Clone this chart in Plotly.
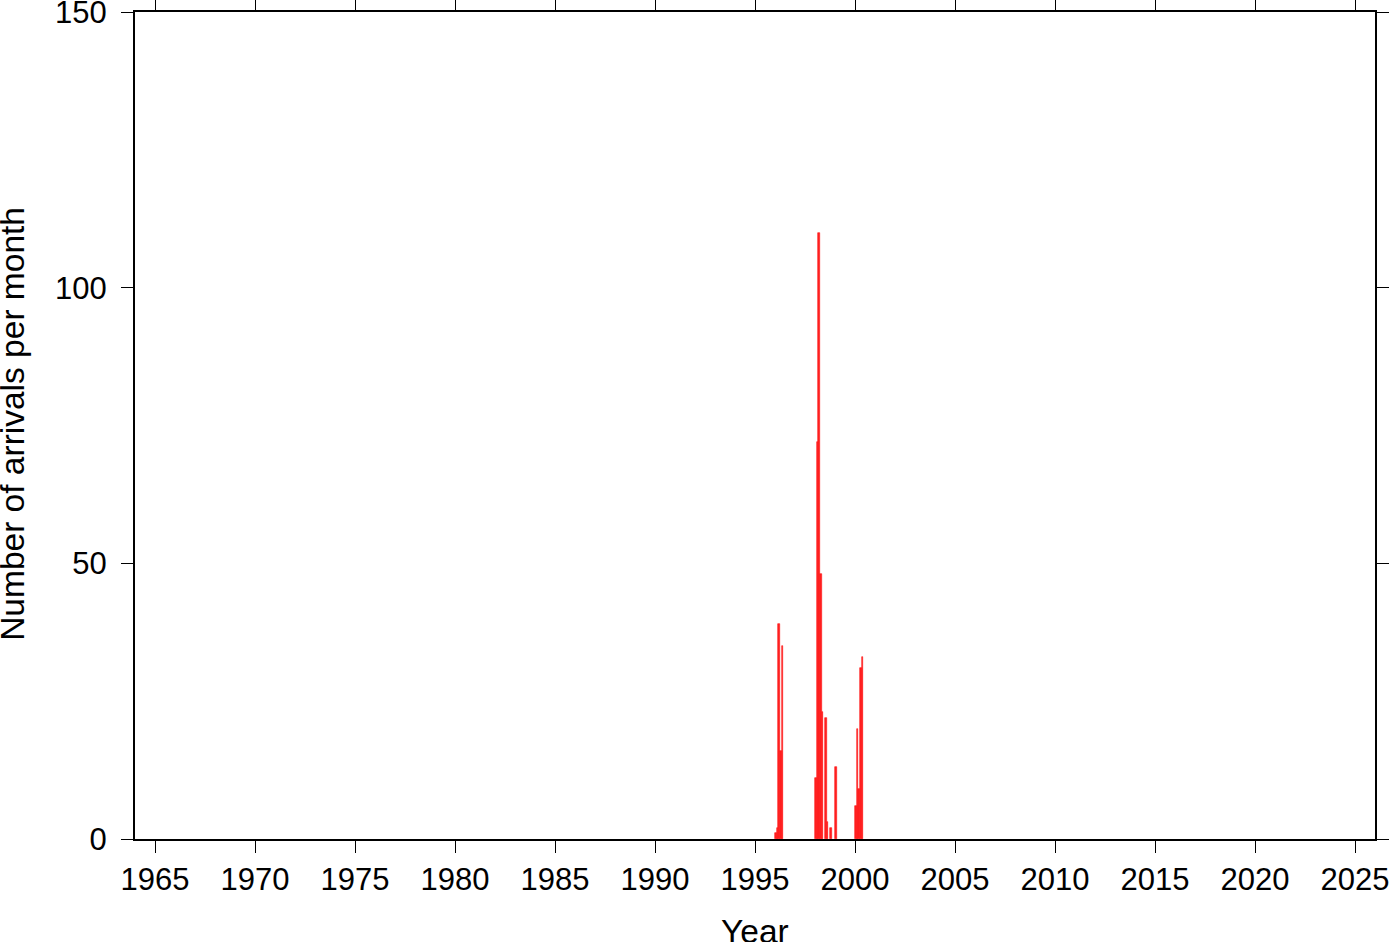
import plotly.graph_objects as go

# Monthly arrival counts (year, month, count)
years = [1996, 1996, 1996, 1996, 1996,
         1998, 1998, 1998, 1998, 1998, 1998, 1998, 1998,
         1999,
         2000, 2000, 2000, 2000, 2000]
months = [1, 2, 3, 4, 5,
          1, 2, 3, 4, 5, 7, 8, 10,
          1,
          1, 2, 3, 4, 5]
counts = [1, 2, 39, 16, 35,
          11, 72, 110, 48, 23, 22, 3, 2,
          13,
          6, 20, 9, 31, 33]

x_ticks = list(range(1965, 2030, 5))
y_ticks = [0, 50, 100, 150]

x_pos = [y + (m - 1) / 12 for y, m in zip(years, months)]

fig = go.Figure()
fig.add_trace(go.Bar(
    x=x_pos, y=counts, width=[1 / 12] * len(counts), offset=0,
    marker=dict(color="rgb(255,32,32)", line=dict(width=0.6, color="rgb(255,20,20)")),
))

font_family = "Liberation Sans, Arial, Helvetica, sans-serif"
axis_common = dict(
    showline=True, linecolor="black", linewidth=2, mirror="ticks",
    ticks="outside", ticklen=12, tickwidth=1.3, tickcolor="black",
    showgrid=False, zeroline=False, automargin=False, ticklabeloverflow="allow",
    tickfont=dict(family=font_family, size=31, color="black"),
)

L, R, T, B = 135, 25, 12, 103
PW = 1400 - L - R
PH = 942 - T - B
title_font = dict(family=font_family, size=33.5, color="black")

fig.update_layout(
    width=1400, height=942,
    margin=dict(l=L, r=R, t=T, b=B),
    plot_bgcolor="white", paper_bgcolor="white",
    showlegend=False, bargap=0,
    xaxis=dict(range=[1964, 2026], tickvals=x_ticks, ticktext=[str(v) for v in x_ticks],
               ticklabelstandoff=0, **axis_common),
    yaxis=dict(range=[0, 150], tickvals=y_ticks, ticktext=[str(v) for v in y_ticks],
               ticklabelstandoff=8, **axis_common),
    annotations=[
        dict(text="Number of arrivals per month", textangle=-90,
             xref="paper", yref="paper", x=(13 - L) / PW, y=0.502,
             xanchor="center", yanchor="middle", showarrow=False, font=title_font),
        dict(text="Year",
             xref="paper", yref="paper", x=0.5, y=-(931 - (942 - B)) / PH,
             xanchor="center", yanchor="middle", showarrow=False, font=title_font),
    ],
)

fig.write_html("out.html", config={"displayModeBar": False},
               post_script="document.body.style.margin='0';document.body.style.overflow='hidden';")
